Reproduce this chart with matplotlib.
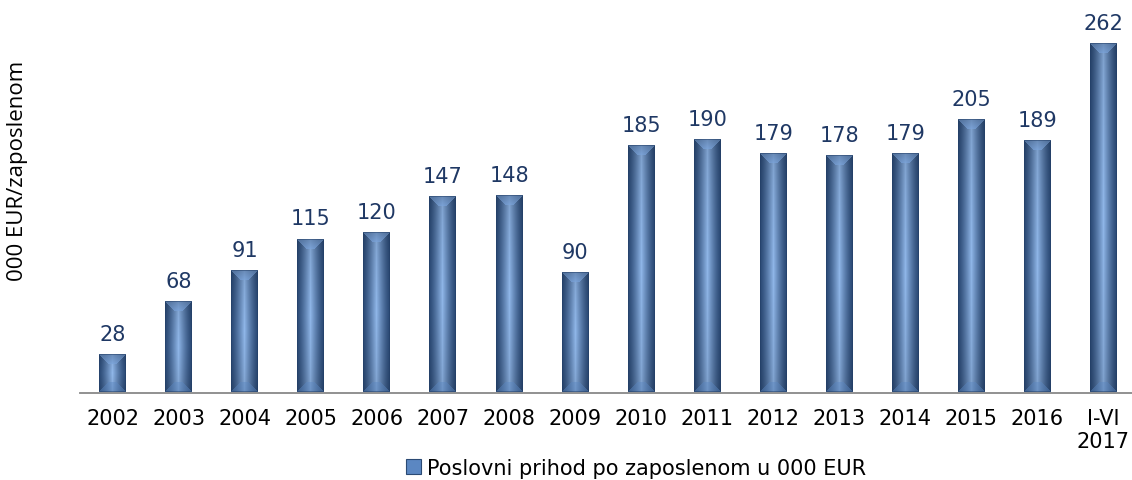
import numpy as np
import matplotlib
matplotlib.use("Agg")
import matplotlib.pyplot as plt
from matplotlib.patches import Rectangle
from matplotlib.colors import to_rgb

categories = ["2002", "2003", "2004", "2005", "2006", "2007", "2008", "2009",
              "2010", "2011", "2012", "2013", "2014", "2015", "2016", "I-VI\n2017"]
values = [28, 68, 91, 115, 120, 147, 148, 90, 185, 190, 179, 178, 179, 205, 189, 262]
series_name = "Poslovni prihod po zaposlenom u 000 EUR"
y_label = "000 EUR/zaposlenom"

W, H, DPI = 1132, 481, 100
fig = plt.figure(figsize=(W / DPI, H / DPI), dpi=DPI)
ax_left = 79.7
spacing = 66.05
ax_right = ax_left + spacing * len(values)
ax_bottom_px = 393.5
ymax = 290
px_per_unit = (393.5 - 45) / 262
ax_h = ymax * px_per_unit
ax = fig.add_axes([ax_left / W, (H - ax_bottom_px) / H, (ax_right - ax_left) / W, ax_h / H])
ax.set_xlim(-0.5, len(values) - 0.5)
ax.set_ylim(0, ymax)

dark = np.array(to_rgb("#2a4975"))
light = np.array(to_rgb("#8fb6e8"))
top_col = np.array(to_rgb("#7aa3da"))
bot_col = np.array(to_rgb("#5a86c0"))


def bevel_image(wpx, hpx, b=10):
    wpx = max(int(round(wpx)), 2)
    hpx = max(int(round(hpx)), 2)
    c = np.arange(wpx)[None, :] + 0.5
    r = np.arange(hpx)[:, None] + 0.5
    u = c / wpx
    t = 1 - np.abs(2 * u - 1)
    base = dark + (light - dark) * (t[..., None] ** 1.3)
    vy = 1 - np.abs(2 * (r / hpx) - 1)
    shade = 0.84 + 0.16 * np.sqrt(vy)
    img = base * shade[..., None]
    img = np.broadcast_to(img, (hpx, wpx, 3)).copy()
    dl = np.broadcast_to(c, (hpx, wpx))
    dr = np.broadcast_to(wpx - c, (hpx, wpx))
    dt = np.broadcast_to(r, (hpx, wpx))
    db = np.broadcast_to(hpx - r, (hpx, wpx))
    bb = min(b, hpx / 2.5)
    top_face = (dt < bb) & (dt <= dl) & (dt <= dr)
    bot_face = (db < bb) & (db <= dl) & (db <= dr)
    tt = (dt / bb)[..., None]
    topc = top_col * (0.8 + 0.2 * tt)
    img = np.where(top_face[..., None], 0.3 * img + 0.7 * topc, img)
    img = np.where(bot_face[..., None], 0.55 * img + 0.45 * bot_col, img)
    edge = (dl < 1.2) | (dr < 1.2) | (dt < 1.0) | (db < 1.0)
    img = np.where(edge[..., None], 0.5 * img + 0.5 * np.array(to_rgb("#223e66")), img)
    return np.clip(img, 0, 1)


x = np.arange(len(values))
bars = ax.bar(x, values, width=27 / spacing, color="none", edgecolor="none", zorder=3)
fig.canvas.draw()
for rect in bars:
    bx, by = rect.get_x(), rect.get_y()
    bw, bh = rect.get_width(), rect.get_height()
    p0 = ax.transData.transform((bx, by))
    p1 = ax.transData.transform((bx + bw, by + bh))
    img = bevel_image(p1[0] - p0[0], p1[1] - p0[1])
    ax.imshow(img, extent=(bx, bx + bw, by, by + bh), aspect="auto",
              interpolation="nearest", zorder=2)
ax.set_xlim(-0.5, len(values) - 0.5)
ax.set_ylim(0, ymax)

for xi, v in zip(x, values):
    ax.annotate(str(v), (xi, v), xytext=(0, 8), textcoords="offset points",
                ha="center", va="bottom", fontsize=15, color="#1f3864",
                family="DejaVu Sans")

ax.set_xticks(x)
ax.set_xticklabels(categories, fontsize=15, family="DejaVu Sans", color="#000000",
                   va="top", linespacing=1.2)
ax.tick_params(axis="x", length=0, pad=11)
ax.set_yticks([])
for s in ["top", "right", "left"]:
    ax.spines[s].set_visible(False)
ax.spines["bottom"].set_color("#888888")
ax.spines["bottom"].set_linewidth(1.3)
ax.spines["bottom"].set_zorder(4)

fig.text(18 / W, 1 - 171 / H, y_label, rotation=90, ha="center", va="center",
         fontsize=16, family="Open Sans", color="#000000")

handle = Rectangle((0, 0), 1, 1, facecolor="#5b87c2", edgecolor="#2b4a74", linewidth=0.8)
fig.legend([handle], [series_name], loc="center", bbox_to_anchor=(636 / W, 1 - 469 / H),
           frameon=False, handlelength=0.75, handleheight=0.75,
           handletextpad=0.3, borderpad=0, prop={"family": "DejaVu Sans", "size": 15})

fig.savefig("out.png", dpi=DPI)
